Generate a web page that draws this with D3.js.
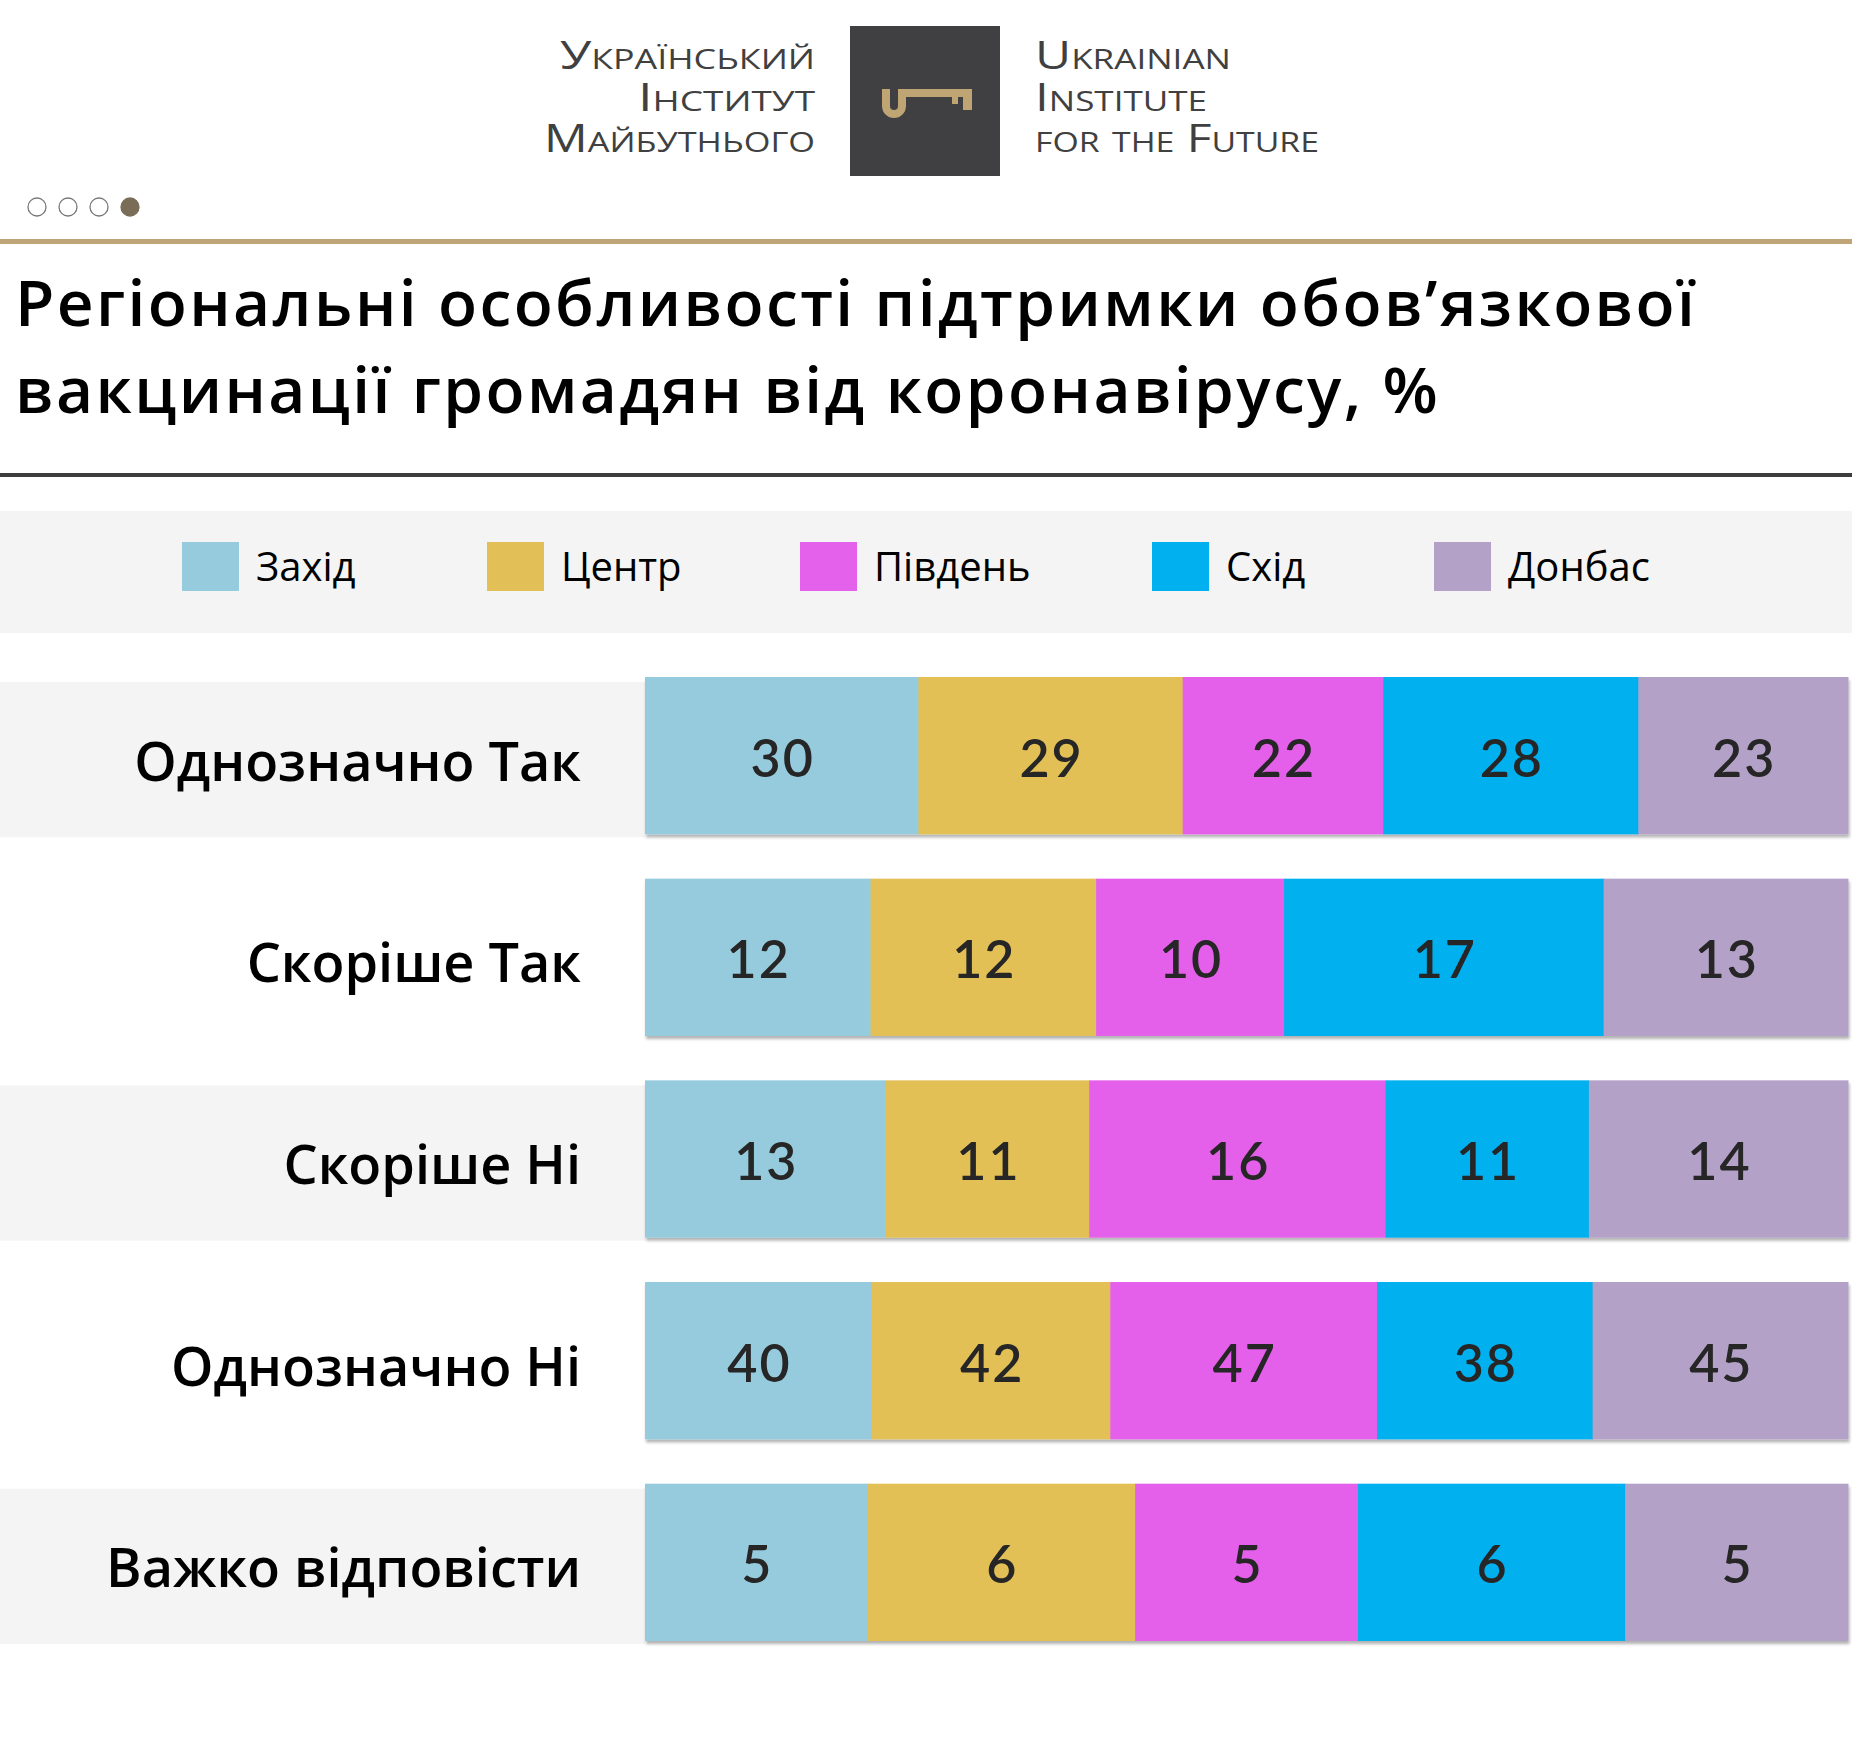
<!DOCTYPE html>
<html>
<head>
<meta charset="utf-8">
<script src="https://cdn.jsdelivr.net/npm/d3@7"></script>
<style>
  body { margin: 0; background: #fff; }
  svg { display: block; }
</style>
</head>
<body>
<div id="chart"></div>
<script>
// data
const regions = ["Захід", "Центр", "Південь", "Схід", "Донбас"];
const answers = ["Однозначно Так", "Скоріше Так", "Скоріше Ні", "Однозначно Ні", "Важко відповісти"];
const zakhid = [30, 12, 13, 40, 5];
const tsentr = [29, 12, 11, 42, 6];
const pivden = [22, 10, 16, 47, 5];
const skhid = [28, 17, 11, 38, 6];
const donbas = [23, 13, 14, 45, 5];
const colors = ["#95cbdd", "#e2c057", "#e461eb", "#00b0ef", "#b3a1c8"];
const titleLines = ["Регіональні особливості підтримки обов’язкової", "вакцинації громадян від коронавірусу, %"];

const series = [zakhid, tsentr, pivden, skhid, donbas];
const table = answers.map((a, i) => {
  const row = { answer: a };
  regions.forEach((r, j) => { row[r] = series[j][i]; });
  return row;
});

const width = 1852;
const height = 1739;

const svg = d3.select("#chart")
  .append("svg")
  .attr("width", width)
  .attr("height", height);

const defs = svg.append("defs");
defs.append("filter")
  .attr("id", "shadow")
  .attr("x", "-2%").attr("y", "-5%")
  .attr("width", "104%").attr("height", "115%")
  .append("feDropShadow")
  .attr("dx", 1).attr("dy", 3)
  .attr("stdDeviation", 1.5)
  .attr("flood-color", "#000")
  .attr("flood-opacity", 0.3);

// header / logo
const logoFont = "'Open Sans', sans-serif";
svg.append("rect")
  .attr("x", 850).attr("y", 26)
  .attr("width", 150).attr("height", 150)
  .attr("fill", "#404042");

svg.append("path")
  .attr("d", "M882,89 H890 V106 A4,4 0 0 0 898,106 V89 H972 V110 H963 V97 H958 V104 H952 V97 H906 V106 A12,12 0 0 1 882,106 Z")
  .attr("fill", "#bfa574");

const uaLines = [["Український", 255], ["Інститут", 177], ["Майбутнього", 271]];
const enLines = [["Ukrainian", 196], ["Institute", 172], ["for the Future", 284]];
const logoBase = [69, 111, 152];

function logoText(lines, xFn) {
  lines.forEach((d, i) => {
    svg.append("text")
      .attr("x", xFn(d)).attr("y", logoBase[i])
      .attr("textLength", d[1])
      .attr("lengthAdjust", "spacingAndGlyphs")
      .style("font-family", logoFont)
      .style("font-variant", "small-caps")
      .style("font-size", "30px")
      .attr("transform", `translate(0,${logoBase[i]}) scale(1,1.25) translate(0,${-logoBase[i]})`)
      .attr("fill", "#404040")
      .text(d[0]);
  });
}
logoText(uaLines, d => 815 - d[1]);
logoText(enLines, d => 1035);

// page dots
[0, 1, 2, 3].forEach(i => {
  svg.append("circle")
    .attr("cx", 37 + i * 31).attr("cy", 207)
    .attr("r", 9)
    .attr("fill", i === 3 ? "#7a6d58" : "#fff")
    .attr("stroke", i === 3 ? "#7a6d58" : "#777")
    .attr("stroke-width", 1.3);
});

svg.append("rect")
  .attr("x", 0).attr("y", 239)
  .attr("width", width).attr("height", 5)
  .attr("fill", "#bea477");

// title
svg.append("text")
  .attr("x", 15)
  .style("font-family", "'Open Sans', sans-serif")
  .style("font-size", "64px")
  .style("font-weight", 600)
  .style("letter-spacing", "2.4px")
  .attr("fill", "#000")
  .selectAll("tspan")
  .data(titleLines)
  .join("tspan")
  .attr("x", 15)
  .attr("y", (d, i) => 326 + i * 87)
  .text(d => d);

svg.append("rect")
  .attr("x", 0).attr("y", 473)
  .attr("width", width).attr("height", 4)
  .attr("fill", "#3d3d3d");

// legend
svg.append("rect")
  .attr("x", 0).attr("y", 511)
  .attr("width", width).attr("height", 122)
  .attr("fill", "#f4f4f4");

const legendX = [182, 487, 800, 1152, 1434];
const legend = svg.append("g")
  .selectAll("g")
  .data(regions)
  .join("g")
  .attr("transform", (d, i) => `translate(${legendX[i]},0)`);

legend.append("rect")
  .attr("y", 542)
  .attr("width", 57).attr("height", 49)
  .attr("fill", d => colors[regions.indexOf(d)]);

legend.append("text")
  .attr("x", 74).attr("y", 581)
  .style("font-family", "'Open Sans', sans-serif")
  .style("font-size", "40px")
  .attr("fill", "#000")
  .text(d => d);

// bars
const x = d3.scaleLinear().domain([0, 1]).range([645, 1848]);
const y = d3.scaleBand().domain(answers).range([677, 1641]).paddingInner(0.22).paddingOuter(0);
const color = d3.scaleOrdinal().domain(regions).range(colors);

const stacked = d3.stack().keys(regions).offset(d3.stackOffsetExpand)(table);

// row bands
svg.append("g")
  .selectAll("rect")
  .data(answers.filter((a, i) => i % 2 === 0))
  .join("rect")
  .attr("x", 0)
  .attr("y", d => y(d) + 5)
  .attr("width", 645)
  .attr("height", y.bandwidth() - 2)
  .attr("fill", "#f4f4f4");

// row labels
svg.append("g")
  .selectAll("text")
  .data(answers)
  .join("text")
  .attr("x", 581)
  .attr("y", d => y(d) + y.bandwidth() / 2 + 25)
  .attr("text-anchor", "end")
  .style("font-family", "'Open Sans', sans-serif")
  .style("font-size", "54px")
  .style("font-weight", 600)
  .attr("fill", "#000")
  .text(d => d);

const rows = svg.append("g").selectAll("g")
  .data(answers)
  .join("g")
  .attr("filter", "url(#shadow)");

rows.selectAll("rect")
  .data((a, i) => stacked.map(s => ({ key: s.key, seg: s[i], answer: a })))
  .join("rect")
  .attr("x", d => x(d.seg[0]))
  .attr("y", d => y(d.answer))
  .attr("width", d => x(d.seg[1]) - x(d.seg[0]) + 0.5)
  .attr("height", y.bandwidth())
  .attr("fill", d => color(d.key));

svg.append("g")
  .selectAll("text")
  .data(stacked.flatMap(s => s.map((seg, i) => ({ key: s.key, seg: seg, answer: answers[i], value: seg.data[s.key] }))))
  .join("text")
  .attr("x", d => (x(d.seg[0]) + x(d.seg[1])) / 2 + 1)
  .attr("y", d => y(d.answer) + y.bandwidth() / 2 + 21)
  .attr("text-anchor", "middle")
  .style("font-family", "Lato, sans-serif")
  .style("font-size", "52px")
  .style("font-weight", 600)
  .style("letter-spacing", "2px")
  .attr("fill", "#262626")
  .text(d => d.value);
</script>
</body>
</html>
